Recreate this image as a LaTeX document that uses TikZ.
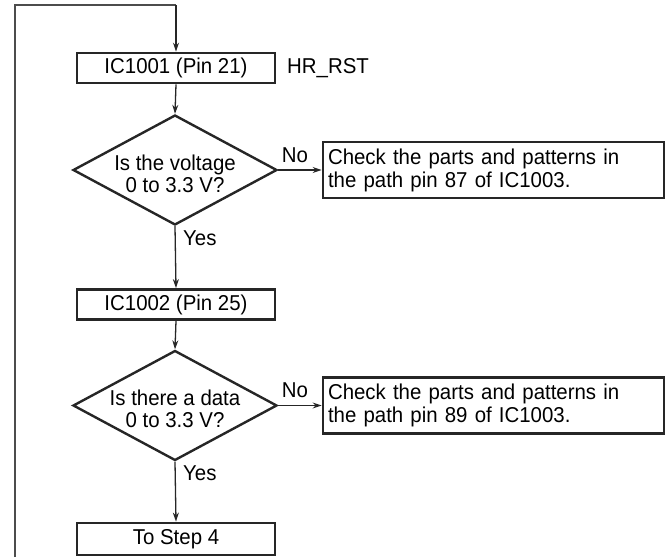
\documentclass[tikz,border=0pt]{standalone}
\usepackage{fontspec}
\setmainfont{Liberation Sans}[FakeStretch=0.95]
\usetikzlibrary{shapes.geometric,arrows.meta}
\tikzset{
  flowbox/.style={draw=black!85, line width=2.8pt, minimum width=198pt, minimum height=30pt, inner sep=0pt, font=\fontsize{21.5}{23}\selectfont},
  checkbox/.style={draw=black!85, line width=2.8pt, minimum width=341pt, minimum height=56pt, inner sep=0pt, text width=331pt, align=left, font=\fontsize{21.5}{23}\selectfont},
  dia/.style={draw=black!85, line width=2.4pt, diamond, minimum width=204pt, minimum height=110pt, inner sep=0pt},
  dtext/.style={align=center, inner sep=0pt, font=\fontsize{21.5}{22.5}\selectfont},
  lbl/.style={inner sep=0pt, font=\fontsize{21.5}{23}\selectfont},
  arr/.style={draw=black!85, line width=1.3pt, -{Stealth[length=9pt,width=6pt]}},
  loopline/.style={draw=black!70, line width=1.7pt}
}
\begin{document}
\begin{tikzpicture}[x=1pt,y=-1pt]
\useasboundingbox (0,0) rectangle (672,557);
\node[flowbox] (b1) at (176,68) {IC1001 (Pin 21)};
\node[lbl, anchor=west] (hr) at (287,68) {HR\_RST};
\node[dia] (d1) at (175,170) {};
\node[dtext] (t1) at (175,174) {Is the voltage\\0 to 3.3 V?};
\node[checkbox] (c1) at (493.5,170) {Check the parts and patterns in\\the path pin 87 of IC1003.};
\node[lbl] (no1) at (295,155) {No};
\node[lbl, anchor=west] (yes1) at (183,238) {Yes};
\node[flowbox] (b2) at (176,304.5) {IC1002 (Pin 25)};
\node[dia] (d2) at (175,405.5) {};
\node[dtext] (t2) at (175,409) {Is there a data\\0 to 3.3 V?};
\node[checkbox] (c2) at (493.5,405.5) {Check the parts and patterns in\\the path pin 89 of IC1003.};
\node[lbl] (no2) at (295,390) {No};
\node[lbl, anchor=west] (yes2) at (183,473) {Yes};
\node[flowbox, minimum height=32pt] (b3) at (176,539) {To Step 4};
\coordinate (lb) at (15,557);
\coordinate (lt) at (15,5);
\draw[loopline] (lb) -- (lt) -- (lt -| b1.north);
\draw[arr] (lt -| b1.north) -- (b1.north);
\draw[arr] (b1.south) -- (d1.north);
\draw[arr] (d1.east) -- (c1.west);
\draw[arr] (d1.south) -- (b2.north);
\draw[arr] (b2.south) -- (d2.north);
\draw[arr] (d2.east) -- (c2.west);
\draw[arr] (d2.south) -- (b3.north);
\end{tikzpicture}
\end{document}
